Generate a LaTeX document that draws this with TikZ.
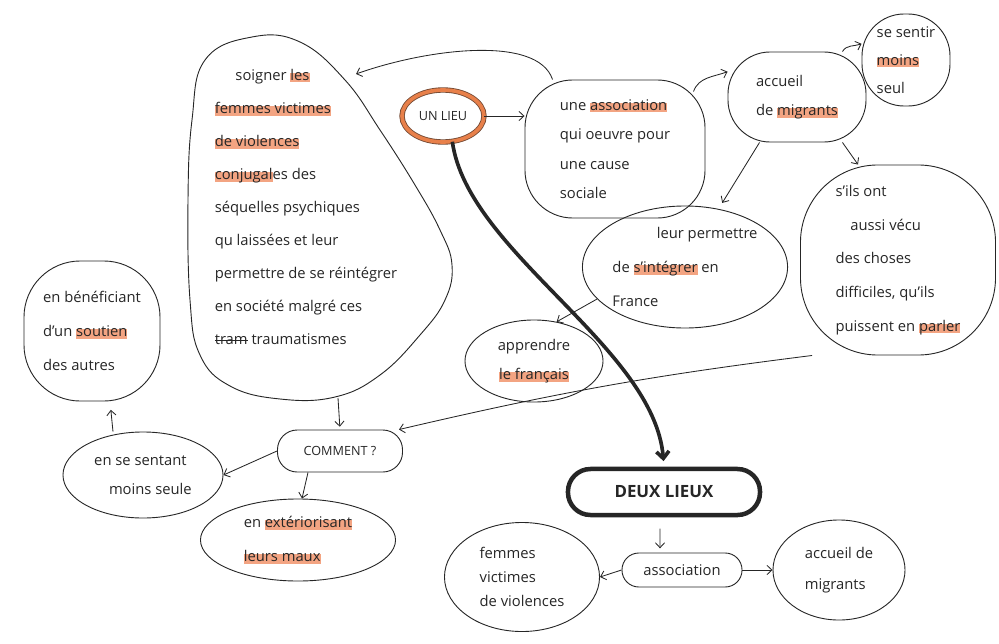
\documentclass[tikz,border=0pt]{standalone}
\usepackage{fontspec}
\setmainfont{Open Sans}
\usetikzlibrary{shapes.geometric, arrows.meta}

\definecolor{ink}{HTML}{262626}
\definecolor{marker}{HTML}{F3A482}
\definecolor{ring}{HTML}{E8804A}

\newsavebox\hlbox
\newcommand\hl[1]{\sbox\hlbox{#1}\rlap{\textcolor{marker}{\rule[-1.5pt]{\wd\hlbox}{6.8pt}}}\usebox\hlbox}
\newcommand\barre[1]{\sbox\hlbox{#1}\rlap{\rule[2.7pt]{\wd\hlbox}{0.6pt}}\usebox\hlbox}

\begin{document}
\begin{tikzpicture}[x=0.025cm,y=-0.025cm,color=ink,
        hand/.style={font=\fontsize{10.5}{21}\selectfont, text=ink, align=left},
        blob/.style={hand, draw=ink, line width=0.65pt, inner sep=0pt, rounded corners=#1},
        blob/.default=20pt,
        oval/.style={hand, ellipse, draw=ink, line width=0.65pt, inner sep=0pt},
        link/.style={-{Straight Barb[length=3.5pt,width=6.5pt]}, draw=ink, line width=0.6pt}]
    \useasboundingbox (0,0) rectangle (999,644);

    % le grand cercle a gauche
    \draw[line width=0.65pt] plot[smooth cycle, tension=0.7] coordinates {(205,60) (252,37) (300,42) (345,80) (380,130) (415,185) (440,230) (452,265) (445,300) (420,335) (380,375) (335,397) (280,399) (230,386) (200,355) (190,300) (188,200) (192,120)};
    \coordinate (soin-in) at (356,74);
    \coordinate (soin-out) at (338,398);
    \node[hand, font=\fontsize{10.5}{23.5}\selectfont] (soin) at (306,207) {\hspace{1.4em}soigner \hl{les}\\\hl{femmes victimes}\\\hl{de violences}\\\hl{conjugal}es des\\séquelles psychiques\\qu laissées et leur\\permettre de se réintégrer\\en société malgré ces\\\barre{tram} traumatismes};

    \node[ellipse, draw=ink!60!ring, line width=0.6pt, double=ring, double distance=2.6pt, fill=white, inner sep=0pt, minimum width=2.05cm, minimum height=1.3cm, font=\fontsize{9}{10}\selectfont] (unlieu) at (443,116) {UN LIEU};

    \node[blob=34pt, minimum width=4.5cm, minimum height=3.45cm] (asso) at (615,149) {une \hl{association}\\qui oeuvre pour\\une cause\\sociale};
    \node[blob=30pt, minimum width=3.45cm, minimum height=2.25cm] (accueil) at (797,97) {accueil\\de \hl{migrants}};
    \node[blob=30pt, minimum width=2.2cm, minimum height=2.3cm, font=\fontsize{10.5}{20}\selectfont] (sentir) at (906,60) {se sentir\\\hl{moins}\\seul};
    \node[blob=55pt, minimum width=4.875cm, minimum height=4.75cm, font=\fontsize{10.5}{24}\selectfont] (sils) at (898,260) {s'ils ont\\\quad aussi vécu\\des choses\\difficiles, qu'ils\\puissent en \hl{parler}};
    \node[oval, minimum width=5cm, minimum height=3.05cm, font=\fontsize{10.5}{24}\selectfont] (permettre) at (685,267) {\hspace{3em}leur permettre\\de \hl{s'intégrer} en\\France};
    \node[oval, minimum width=3.45cm, minimum height=2.05cm, align=center] (apprendre) at (534,361) {apprendre\\\hl{le français}};

    \node[blob=14pt, minimum width=3.125cm, minimum height=1.05cm, font=\fontsize{9}{10}\selectfont] (comment) at (340,451) {COMMENT ?};
    \node[oval, minimum width=4cm, minimum height=2.15cm] (seule) at (143,475) {en se sentant\\\quad moins seule};
    \node[blob=40pt, minimum width=3.4cm, minimum height=3.5cm, font=\fontsize{10.5}{24}\selectfont] (benef) at (92,331) {en bénéficiant\\d'un \hl{soutien}\\des autres};
    \node[oval, minimum width=4.875cm, minimum height=2.05cm, font=\fontsize{10.5}{24}\selectfont] (exter) at (298,540) {en \hl{extériorisant}\\\hl{leurs maux}};

    \node[blob=16pt, line width=3.2pt, minimum width=4.8cm, minimum height=1.15cm, font=\fontsize{12}{14}\bfseries] (deux) at (664,492) {DEUX LIEUX};
    \node[blob=12pt, minimum width=3cm, minimum height=0.85cm] (assoc) at (682,570) {association};
    \node[oval, minimum width=3.875cm, minimum height=2.725cm, font=\fontsize{10.5}{17}\selectfont] (femmes) at (522,577) {femmes\\victimes\\de violences};
    \node[oval, minimum width=3.3cm, minimum height=2.5cm, font=\fontsize{10.5}{22}\selectfont] (migr) at (839,570) {accueil de\\migrants};

    % fleches
    \draw[line width=2.6pt, -{Straight Barb[length=5pt,width=9pt]}, shorten >=4pt] (unlieu.-70) .. controls +(15,110) and +(-10,-120) .. (deux.north);
    \draw[link] (unlieu.east) -- (unlieu.east -| asso.west);
    \draw[link] ([xshift=0.7cm]asso.north west) .. controls +(-15,-45) and +(70,-25) .. (soin-in);
    \draw[link] ([xshift=-0.3cm,yshift=-0.3cm]asso.north east) to[out=70,in=200] (accueil.160);
    \draw[link] ([xshift=-0.6cm]accueil.north east) to[out=60,in=200] (sentir.160);
    \draw[link, shorten >=5pt] ([xshift=0.8cm]accueil.south west) -- (permettre.60);
    \draw[link] ([xshift=-0.6cm]accueil.south east) -- ([xshift=-1cm]sils.north);
    \draw[link] ([xshift=0.3cm]sils.south west) to[bend right=3] (comment.20);
    \draw[link, shorten >=2pt] (soin-out) -- (comment.north);
    \draw[link] (comment.west) -- (seule.east);
    \draw[link, shorten >=6pt] ([xshift=-0.75cm]seule.north) -- ([xshift=0.45cm]benef.south);
    \draw[link] ([xshift=-0.8cm]comment.south) -- ([xshift=0.1cm]exter.north);
    \draw[link] (permettre.200) -- (apprendre.60);
    \draw[link, shorten <=8pt, shorten >=3pt] ([xshift=-0.1cm]deux.south) -- ([xshift=-0.55cm]assoc.north);
    \draw[link] (assoc.west) -- (femmes.east);
    \draw[link] (assoc.east) -- (migr.west);
\end{tikzpicture}
\end{document}
